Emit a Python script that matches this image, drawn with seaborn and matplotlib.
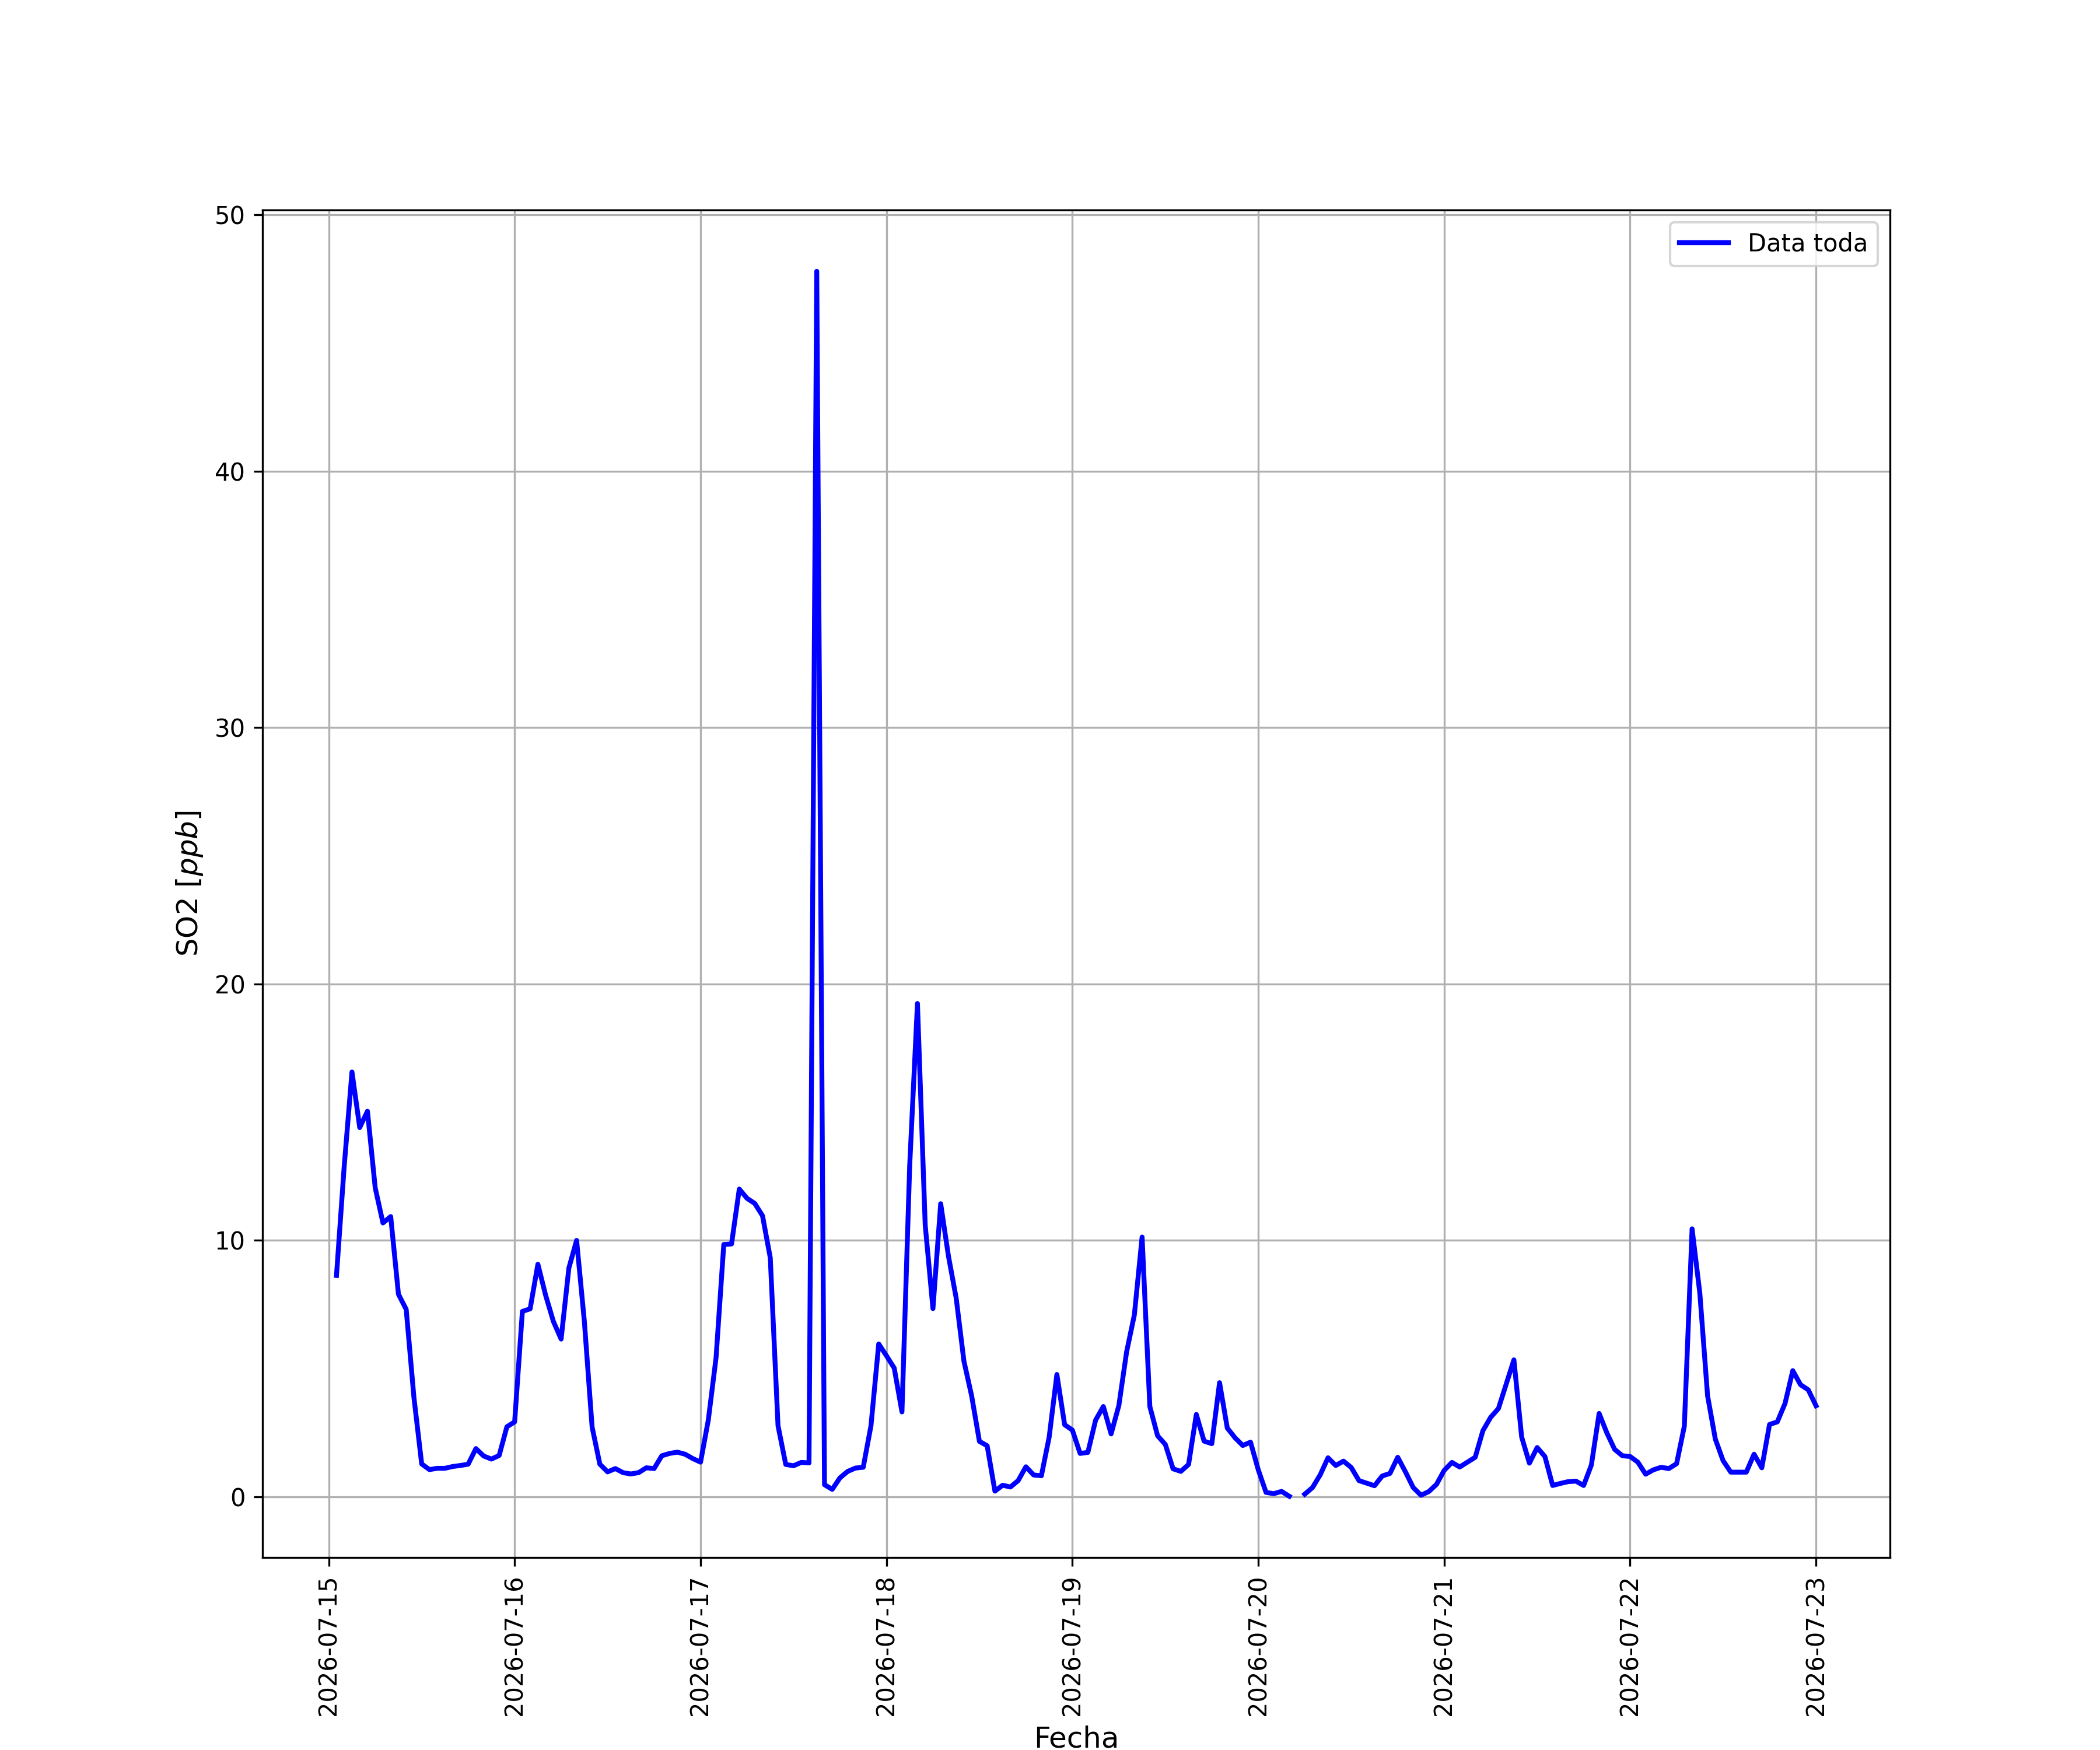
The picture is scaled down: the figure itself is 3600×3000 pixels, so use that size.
import pandas as pd
import numpy as np
import matplotlib
matplotlib.use("Agg")
import matplotlib.pyplot as plt
import seaborn as sns

# hourly SO2 readings, one list per day (first day starts at 01:00)
so2_0715 = [8.63, 12.9, 16.57, 14.4, 15.04, 12.05, 10.68, 10.93, 7.9, 7.31, 3.87, 1.28,
            1.06, 1.11, 1.11, 1.18, 1.22, 1.27, 1.88, 1.59, 1.47, 1.61, 2.73]
so2_0716 = [2.92, 7.23, 7.33, 9.07, 7.86, 6.84, 6.15, 8.92, 10.0, 6.84, 2.72, 1.27,
            0.97, 1.10, 0.94, 0.89, 0.94, 1.13, 1.10, 1.60, 1.69, 1.74, 1.66, 1.49]
so2_0717 = [1.35, 2.99, 5.42, 9.84, 9.86, 12.0, 11.64, 11.44, 10.96, 9.32, 2.77, 1.26,
            1.21, 1.34, 1.32, 47.8, 0.47, 0.29, 0.74, 0.99, 1.12, 1.15, 2.77, 5.96]
so2_0718 = [5.5, 5.02, 3.31, 12.93, 19.24, 10.6, 7.34, 11.43, 9.39, 7.75, 5.29, 3.93,
            2.16, 1.99, 0.22, 0.45, 0.38, 0.63, 1.17, 0.85, 0.82, 2.32, 4.77, 2.81]
so2_0719 = [2.6, 1.69, 1.73, 2.99, 3.52, 2.45, 3.56, 5.65, 7.09, 10.13, 3.52, 2.38,
            2.04, 1.09, 0.99, 1.26, 3.21, 2.17, 2.07, 4.45, 2.68, 2.30, 2.0, 2.13]
so2_0720 = [1.05, 0.17, 0.12, 0.21, 0.02, np.nan, 0.1, 0.36, 0.86, 1.52, 1.22, 1.39,
            1.14, 0.63, 0.53, 0.43, 0.81, 0.91, 1.54, 0.97, 0.36, 0.06, 0.2, 0.48]
so2_0721 = [1.03, 1.34, 1.16, 1.35, 1.54, 2.58, 3.10, 3.44, 4.39, 5.34, 2.33, 1.31,
            1.92, 1.57, 0.44, 0.52, 0.59, 0.61, 0.44, 1.24, 3.25, 2.49, 1.85, 1.60]
so2_0722 = [1.57, 1.35, 0.88, 1.05, 1.15, 1.10, 1.29, 2.75, 10.45, 7.94, 3.94, 2.25,
            1.41, 0.96, 0.96, 0.96, 1.66, 1.13, 2.82, 2.92, 3.64, 4.92, 4.37, 4.17]
so2_0723 = [3.55]

values = (so2_0715 + so2_0716 + so2_0717 + so2_0718 + so2_0719 +
          so2_0720 + so2_0721 + so2_0722 + so2_0723)
fechas = pd.date_range("2026-07-15 01:00", periods=len(values), freq="h")

df = pd.DataFrame({"Fecha": fechas, "SO2": values})
# split at the missing reading so the line shows a gap
df["tramo"] = df["SO2"].isna().cumsum()
df = df.dropna()

fig = plt.figure(figsize=(12, 10), dpi=300)
ax = plt.gca()
first = True
for _, seg in df.groupby("tramo"):
    sns.lineplot(data=seg, x="Fecha", y="SO2", ax=ax, color="b", linewidth=2,
                 label="Data toda" if first else None)
    first = False

ax.grid(True)
ax.set_xlabel("Fecha", fontsize=12)
ax.set_ylabel("SO2 [$ppb$]", fontsize=12)
plt.xticks(rotation=90)
ax.legend(loc="upper right")

plt.savefig("out.png", dpi=300)
plt.close()
